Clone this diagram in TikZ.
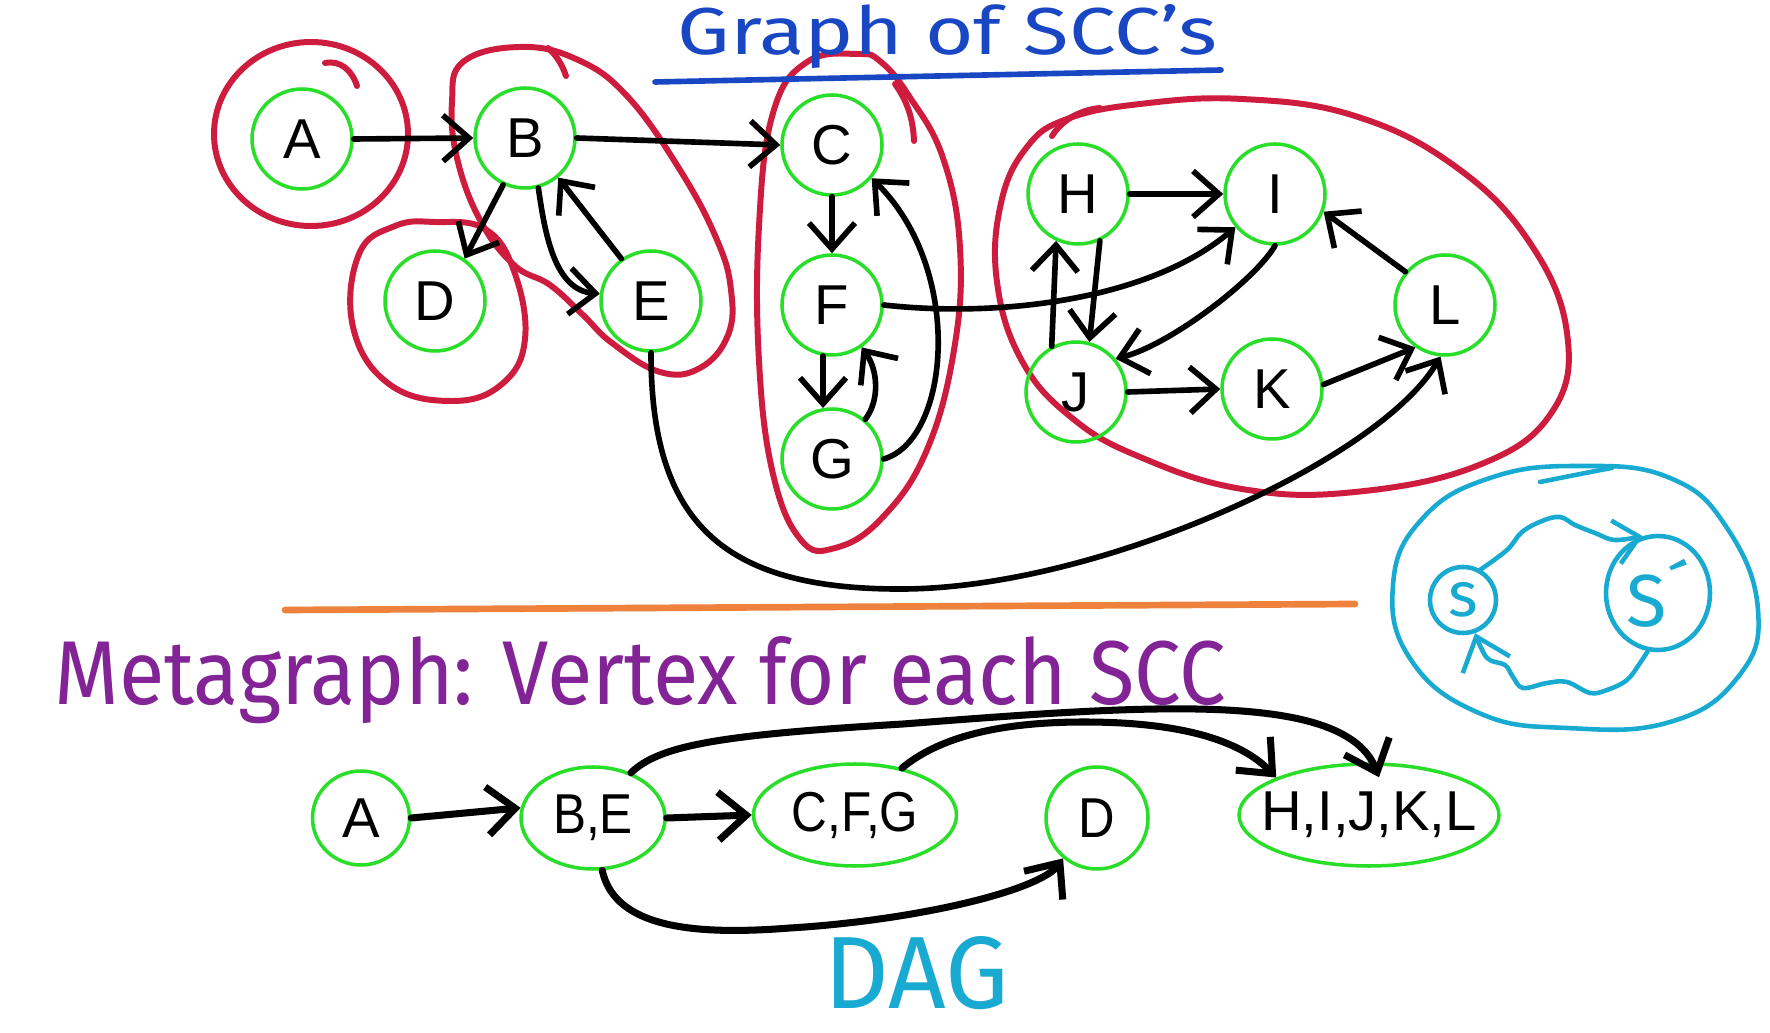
\documentclass[tikz,border=0pt]{standalone}
\usepackage{fontspec}
\usepackage{graphicx}
\usetikzlibrary{arrows.meta,shapes.geometric,calc}
\newfontfamily\lab{Liberation Sans}
\newfontfamily\hand{Fira Sans}
\definecolor{grn}{RGB}{40,222,40}
\definecolor{sccred}{RGB}{205,28,62}
\definecolor{titleblue}{RGB}{25,70,195}
\definecolor{orng}{RGB}{238,130,60}
\definecolor{purp}{RGB}{130,35,150}
\definecolor{lblue}{RGB}{25,170,210}
\begin{document}
\begin{tikzpicture}[x=0.1mm,y=-0.1mm,
  vtx/.style={draw=grn,line width=1pt,circle,minimum size=10mm,inner sep=0pt,font={\lab\fontsize{16}{18}\selectfont}},
  mvtx/.style={draw=grn,line width=1pt,ellipse,minimum height=10.2mm,inner sep=0pt,font={\lab\fontsize{16}{18}\selectfont}},
  edge/.style={line width=1.6pt,line cap=round,line join=round,-{Straight Barb[length=2.6mm,width=4.6mm]}},
  medge/.style={line width=2pt,line cap=round,line join=round,-{Straight Barb[length=2.8mm,width=4.8mm]}},
  scc/.style={draw=sccred,line width=1.7pt,line cap=round},
  doodle/.style={draw=lblue,line width=1.3pt,line cap=round,line join=round},
  dnode/.style={draw=lblue,line width=1.3pt,inner sep=0pt,text=lblue}]
\useasboundingbox (0,0) rectangle (1770,1033);
\fill[white] (0,0) rectangle (1770,1033);

% ---------- red SCC enclosures ----------
\draw[scc] (311,134) ellipse [x radius=97, y radius=92];
\draw[scc] (325,63) .. controls (340,60) and (352,70) .. (357,86);
\draw[scc] plot[smooth cycle,tension=0.7] coordinates {(435,222) (485,229) (514,271) (525,339) (502,384) (452,401) (389,384) (353,327) (359,254) (395,226)};
\draw[scc] plot[smooth cycle,tension=0.7] coordinates {(463,62) (519,47) (576,59) (627,96) (680,170) (717,240) (731,290) (728,335) (700,368) (660,372) (612,343) (583,315) (550,285) (514,265) (480,220) (457,158) (452,102)};
\draw[scc] (548,48) .. controls (556,55) and (562,64) .. (566,76);
\draw[scc] plot[smooth cycle,tension=0.7] coordinates {(858,54) (807,62) (773,113) (759,226) (759,361) (773,474) (801,540) (835,548) (881,519) (926,452) (954,350) (960,248) (943,158) (909,96) (881,62)};
\draw[scc] (914,141) .. controls (913,115) and (905,98) .. (895,84);
\draw[scc] plot[smooth cycle,tension=0.7] coordinates {(1067,119) (1140,104) (1242,99) (1355,116) (1456,167) (1530,243) (1567,333) (1552,412) (1479,465) (1355,492) (1242,489) (1140,457) (1072,418) (1022,361) (997,282) (1001,203) (1027,147)};
\draw[scc] (1052,136) .. controls (1062,120) and (1080,110) .. (1100,108);

% ---------- title, separators, texts ----------
\node[anchor=base west,inner sep=0pt,text=titleblue] (title) at (677,55) {\resizebox{54mm}{5.0mm}{\hand Graph of SCC’s}};
\draw[titleblue,line width=1.6pt,line cap=round] (655,82) -- (1221,70);
\draw[orng,line width=1.9pt,line cap=round] (285,610) -- (1355,604);
\node[anchor=base west,inner sep=0pt,text=purp] (meta) at (54,705) {\resizebox{117.1mm}{6.8mm}{\hand Metagraph: Vertex for each SCC}};
\node[anchor=base west,inner sep=0pt,text=lblue] (dag) at (824,1008) {\resizebox{18.4mm}{7.2mm}{\hand DAG}};

% ---------- top graph nodes ----------
\node[vtx] (A) at (302,139) {A};
\node[vtx] (B) at (525,138) {B};
\node[vtx] (C) at (832,145) {C};
\node[vtx] (D) at (435,301) {D};
\node[vtx] (E) at (651,301) {E};
\node[vtx] (F) at (832,305) {F};
\node[vtx] (G) at (832,459) {G};
\node[vtx] (H) at (1078,194) {H};
\node[vtx] (I) at (1275,194) {I};
\node[vtx] (J) at (1076,392) {J};
\node[vtx] (K) at (1272,389) {K};
\node[vtx] (L) at (1445,305) {L};

% ---------- top graph edges ----------
\draw[edge] (A.east) -- (B.west);
\draw[edge] (B.east) -- (C.west);
\draw[edge] (B.-115) -- (D.55);
\draw[edge] (B.-75) .. controls (545,235) and (555,290) .. (E.172);
\draw[edge] (E.125) -- (B.-50);
\draw[edge] (C.south) -- (F.north);
\draw[edge] (F.-100) -- (G.100);
\draw[edge] (G.50) .. controls (880,400) and (878,370) .. (F.-55);
\draw[edge] (G.east) .. controls (950,440) and (965,270) .. (C.-40);
\draw[edge] (F.east) .. controls (1000,318) and (1150,300) .. (I.-140);
\draw[edge] (H.east) -- (I.west);
\draw[edge] (H.-65) -- (J.75);
\draw[edge] (J.118) -- (H.-115);
\draw[edge] (I.-90) .. controls (1255,280) and (1170,345) .. (J.40);
\draw[edge] (J.east) -- (K.west);
\draw[edge] (K.5) -- (L.-125);
\draw[edge] (L.140) -- (I.-20);
\draw[edge] (E.south) .. controls (651,520) and (720,590) .. (903,589) .. controls (1100,588) and (1380,460) .. (L.-95);

% ---------- metagraph ----------
\node[mvtx,minimum width=9.7mm,minimum height=9.4mm] (mA) at (361,818) {\makebox[0pt]{A}};
\node[mvtx,minimum width=14.4mm] (mBE) at (593,818) {\makebox[0pt]{\scalebox{0.88}[1]{B,E}}};
\node[mvtx,minimum width=20.3mm] (mCFG) at (855,815) {\makebox[0pt]{\scalebox{0.88}[1]{C,F,G}}};
\node[mvtx,minimum width=10.2mm] (mD) at (1097,818) {\makebox[0pt]{\scalebox{0.9}[1]{D}}};
\node[mvtx,minimum width=26mm] (mH) at (1369,815) {\makebox[0pt]{H,I,J,K,L}};

\draw[medge] (mA.east) -- (mBE.172);
\draw[medge] (mBE.east) -- (mCFG.west);
\draw[medge] (mBE.50) .. controls (660,745) and (720,735) .. (903,724) .. controls (1150,705) and (1345,690) .. ([xshift=1mm,yshift=-1.5mm]mH.north);
\draw[medge] (mCFG.45) .. controls (930,745) and (980,722) .. (1084,722) .. controls (1180,722) and (1240,740) .. (mH.158);
\draw[medge] (mBE.-80) .. controls (615,930) and (700,935) .. (790,928) .. controls (920,920) and (1040,890) .. (mD.-130);

% ---------- blue doodle ----------
\draw[doodle] plot[smooth cycle,tension=0.75] coordinates {(1393,585) (1422,519) (1490,478) (1580,466) (1670,478) (1727,528) (1758,610) (1738,677) (1670,722) (1567,728) (1479,713) (1411,660)};
\draw[doodle] (1540,482) .. controls (1570,476) and (1600,470) .. (1612,468);
\node[dnode,circle,minimum size=6.6mm,font={\hand\fontsize{18}{20}\selectfont}] (sn) at (1463,600) {s};
\node[dnode,ellipse,minimum width=10.4mm,minimum height=11.4mm,font={\hand\fontsize{21}{24}\selectfont}] (spn) at (1658,593) {S´};
\draw[doodle,-{Straight Barb[length=2.4mm,width=4.4mm]}] plot[smooth,tension=0.6] coordinates {(sn.60) (1507,550) (1522,532) (1542,521) (1560,517) (1575,525) (1595,533) (1615,540) (spn.105)};
\draw[doodle,-{Straight Barb[length=3mm,width=5mm]}] plot[smooth,tension=0.6] coordinates {(spn.-100) (1640,663) (1627,680) (1607,690) (1590,693) (1567,682) (1547,683) (1523,688) (1513,677) (1505,665) (1487,658) (sn.-70)};
\end{tikzpicture}
\end{document}
